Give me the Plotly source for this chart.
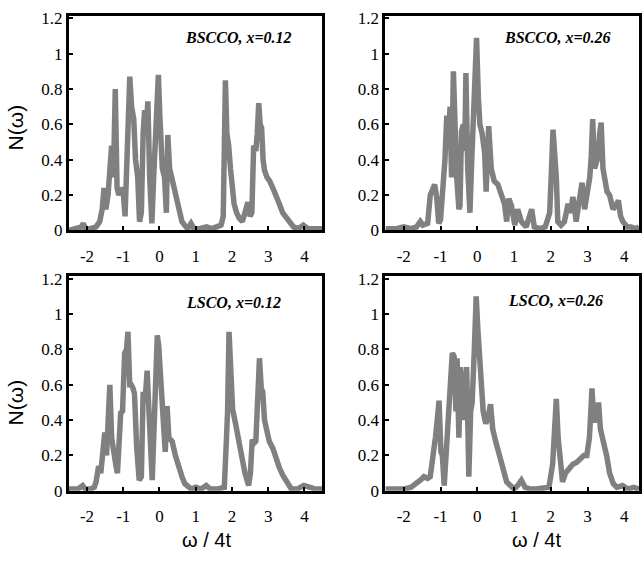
import plotly.graph_objects as go

# ---------------- data ----------------
bscco12_x = [-2.5, -2.3, -2.15, -2.1, -2.05, -1.9, -1.75, -1.65, -1.58, -1.53,
             -1.48, -1.42, -1.36, -1.32, -1.27, -1.22, -1.17, -1.12, -1.06, -1.0,
             -0.95, -0.9, -0.86, -0.82, -0.77, -0.71, -0.66, -0.6, -0.55, -0.5,
             -0.45, -0.41, -0.36, -0.32, -0.27, -0.21, -0.16, -0.11, -0.07, -0.03,
             0.01, 0.04, 0.08, 0.14, 0.19, 0.23, 0.28, 0.36, 0.45, 0.55,
             0.62, 0.69, 0.78, 0.87, 0.95, 1.1, 1.3, 1.45, 1.6, 1.7,
             1.76, 1.79, 1.82, 1.86, 1.91, 1.96, 2.0, 2.06, 2.13, 2.2,
             2.29, 2.38, 2.44, 2.5, 2.55, 2.6, 2.66, 2.7, 2.74, 2.78,
             2.82, 2.86, 2.9, 2.97, 3.04, 3.13, 3.22, 3.31, 3.4, 3.5,
             3.59, 3.7, 3.83, 3.97, 4.1, 4.3, 4.5]
bscco12_y = [0, 0.01, 0.02, 0.04, 0.01, 0.01, 0.02, 0.05, 0.12, 0.24,
             0.12, 0.2, 0.45, 0.48, 0.3, 0.80, 0.24, 0.2, 0.24, 0.22,
             0.08, 0.5, 0.76, 0.87, 0.7, 0.63, 0.4, 0.3, 0.05, 0.1,
             0.55, 0.68, 0.6, 0.73, 0.3, 0.04, 0.3, 0.51, 0.7, 0.88,
             0.65, 0.38, 0.35, 0.3, 0.1, 0.54, 0.35, 0.28, 0.2, 0.13,
             0.05, 0.03, 0.01, 0.04, 0.01, 0.01, 0.02, 0.01, 0.02, 0.03,
             0.08, 0.38, 0.85, 0.55, 0.48, 0.35, 0.24, 0.15, 0.1, 0.07,
             0.05, 0.12, 0.16, 0.08, 0.1, 0.48, 0.45, 0.55, 0.72, 0.6,
             0.58, 0.4, 0.34, 0.3, 0.28, 0.24, 0.2, 0.15, 0.1, 0.07,
             0.04, 0.02, 0.01, 0.03, 0.01, 0.01, 0.01]

bscco26_x = [-2.5, -2.2, -2.0, -1.8, -1.65, -1.55, -1.48, -1.35, -1.28, -1.22,
             -1.16, -1.1, -1.05, -1.0, -0.94, -0.88, -0.83, -0.78, -0.74, -0.7,
             -0.65, -0.6, -0.56, -0.5, -0.47, -0.43, -0.38, -0.34, -0.31, -0.26,
             -0.2, -0.15, -0.11, -0.06, -0.02, 0.03, 0.07, 0.13, 0.2, 0.24,
             0.28, 0.31, 0.38, 0.46, 0.56, 0.65, 0.74, 0.8, 0.86, 0.93,
             1.02, 1.1, 1.2, 1.33, 1.42, 1.48, 1.55, 1.7, 1.85, 1.97,
             2.02, 2.06, 2.11, 2.15, 2.19, 2.28, 2.37, 2.47, 2.54, 2.6,
             2.65, 2.69, 2.76, 2.81, 2.85, 2.92, 2.98, 3.06, 3.1, 3.14,
             3.19, 3.23, 3.29, 3.33, 3.37, 3.42, 3.46, 3.53, 3.6, 3.69,
             3.77, 3.84, 3.9, 3.96, 4.08, 4.18, 4.3, 4.4]
bscco26_y = [0.01, 0.01, 0.02, 0.01, 0.02, 0.05, 0.03, 0.04, 0.2, 0.24,
             0.26, 0.18, 0.04, 0.06, 0.2, 0.4, 0.65, 0.55, 0.7, 0.3,
             0.9, 0.5, 0.3, 0.12, 0.14, 0.56, 0.6, 0.45, 0.89, 0.35,
             0.1, 0.4, 0.6, 0.78, 1.09, 0.75, 0.6, 0.55, 0.44, 0.22,
             0.45, 0.59, 0.35, 0.28, 0.26, 0.2, 0.15, 0.05, 0.18, 0.14,
             0.03, 0.12, 0.05, 0.02, 0.08, 0.12, 0.02, 0.01, 0.02, 0.1,
             0.35, 0.57, 0.42, 0.3, 0.05, 0.03, 0.05, 0.15, 0.1, 0.19,
             0.12, 0.05, 0.15, 0.2, 0.27, 0.12, 0.2, 0.3, 0.42, 0.63,
             0.35, 0.39, 0.42, 0.55, 0.61, 0.35, 0.3, 0.22, 0.2, 0.12,
             0.14, 0.17, 0.08, 0.05, 0.02, 0.02, 0.01, 0.02]

lsco12_x = [-2.5, -2.25, -2.12, -2.05, -1.9, -1.8, -1.75, -1.68, -1.62, -1.56,
            -1.51, -1.46, -1.41, -1.37, -1.32, -1.25, -1.2, -1.16, -1.11, -1.07,
            -1.02, -0.96, -0.91, -0.87, -0.82, -0.78, -0.73, -0.69, -0.63, -0.56,
            -0.5, -0.45, -0.4, -0.34, -0.29, -0.25, -0.2, -0.15, -0.11, -0.06,
            -0.02, 0.03, 0.07, 0.12, 0.16, 0.21, 0.26, 0.35, 0.44, 0.53,
            0.62, 0.7, 0.76, 0.88, 1.0, 1.15, 1.29, 1.4, 1.6, 1.79,
            1.85, 1.88, 1.92, 1.97, 2.02, 2.1, 2.18, 2.27, 2.36, 2.46,
            2.51, 2.56, 2.61, 2.66, 2.71, 2.76, 2.81, 2.85, 2.9, 2.94,
            3.03, 3.13, 3.22, 3.31, 3.4, 3.5, 3.64, 3.8, 3.98, 4.16,
            4.3, 4.5]
lsco12_y = [0.01, 0.01, 0.03, 0.01, 0.01, 0.02, 0.05, 0.14, 0.1, 0.2,
            0.33, 0.2, 0.5, 0.6, 0.3, 0.18, 0.14, 0.1, 0.4, 0.44,
            0.45, 0.78, 0.8, 0.9, 0.6, 0.6, 0.58, 0.55, 0.25, 0.06,
            0.08, 0.56, 0.5, 0.68, 0.45, 0.2, 0.06, 0.35, 0.55, 0.88,
            0.82, 0.6, 0.5, 0.35, 0.22, 0.48, 0.3, 0.28, 0.2, 0.13,
            0.08, 0.04, 0.03, 0.01, 0.02, 0.01, 0.03, 0.01, 0.01, 0.02,
            0.3, 0.45, 0.9, 0.6, 0.46, 0.38, 0.28, 0.18, 0.1, 0.03,
            0.1, 0.29, 0.27, 0.28, 0.5, 0.75, 0.58, 0.56, 0.4, 0.35,
            0.28, 0.24, 0.18, 0.13, 0.09, 0.05, 0.01, 0.01, 0.03, 0.02,
            0.01, 0.01]

lsco26_x = [-2.5, -2.2, -2.0, -1.8, -1.65, -1.55, -1.45, -1.35, -1.28, -1.2,
            -1.14, -1.09, -1.04, -0.99, -0.95, -0.9, -0.86, -0.81, -0.77, -0.72,
            -0.68, -0.63, -0.58, -0.55, -0.5, -0.46, -0.41, -0.36, -0.32, -0.29,
            -0.26, -0.23, -0.18, -0.14, -0.08, -0.03, 0.02, 0.09, 0.16, 0.23,
            0.3, 0.36, 0.42, 0.5, 0.6, 0.7, 0.8, 0.9, 1.0, 1.1,
            1.2, 1.3, 1.45, 1.6, 1.8, 1.95, 2.05, 2.1, 2.15, 2.2,
            2.26, 2.32, 2.4, 2.5, 2.6, 2.7, 2.8, 2.9, 2.98, 3.05,
            3.09, 3.12, 3.17, 3.21, 3.26, 3.3, 3.35, 3.39, 3.46, 3.52,
            3.6, 3.7, 3.8, 3.95, 4.1, 4.25, 4.4]
lsco26_y = [0.01, 0.01, 0.01, 0.02, 0.04, 0.06, 0.08, 0.07, 0.08, 0.25,
            0.3, 0.4, 0.51, 0.22, 0.2, 0.03, 0.15, 0.3, 0.5, 0.62,
            0.78, 0.76, 0.45, 0.75, 0.3, 0.7, 0.46, 0.4, 0.6, 0.7,
            0.4, 0.08, 0.45, 0.5, 0.8, 1.1, 0.9, 0.6, 0.45, 0.38,
            0.42, 0.49, 0.35, 0.28, 0.2, 0.12, 0.05, 0.03, 0.01, 0.03,
            0.06, 0.02, 0.01, 0.01, 0.02, 0.02, 0.15, 0.4, 0.52, 0.3,
            0.15, 0.05, 0.1, 0.13, 0.15, 0.16, 0.18, 0.2, 0.2, 0.3,
            0.45, 0.58, 0.4, 0.4, 0.42, 0.5, 0.35, 0.3, 0.25, 0.2,
            0.1, 0.04, 0.02, 0.03, 0.01, 0.02, 0.01]

panel_labels = ["BSCCO, x=0.12", "BSCCO, x=0.26", "LSCO, x=0.12", "LSCO, x=0.26"]
x_ticks = [-2, -1, 0, 1, 2, 3, 4]
x_tick_text = ["-2", "-1", "0", "1", "2", "3", "4"]
y_ticks = [0, 0.2, 0.4, 0.6, 0.8, 1.0, 1.2]
y_tick_text = ["0", "0.2", "0.4", "0.6", "0.8", "1", "1.2"]
x_title = "ω\u00a0/\u00a04t"
y_title = "N(ω)"

# ---------------- figure ----------------
W, H = 642, 563
series = [(bscco12_x, bscco12_y), (bscco26_x, bscco26_y),
          (lsco12_x, lsco12_y), (lsco26_x, lsco26_y)]

# pixel boxes: (left, right, top, bottom)
boxes = [(69, 323, 10, 231), (386, 640, 10, 231),
         (69, 323, 278, 499), (386, 640, 278, 499)]
xranges = [[-2.5, 4.5], [-2.5, 4.4], [-2.5, 4.5], [-2.5, 4.4]]

fig = go.Figure()
serif = "Liberation Serif, Times New Roman, serif"
sans = "Liberation Sans, Arial, sans-serif"

layout = dict(width=W, height=H, margin=dict(l=0, r=0, t=0, b=0),
              paper_bgcolor="white", plot_bgcolor="white", showlegend=False)

for i, ((xs, ys), (l, r, t, b)) in enumerate(zip(series, boxes)):
    n = "" if i == 0 else str(i + 1)
    fig.add_trace(go.Scatter(x=xs, y=ys, mode="lines",
                             line=dict(color="#808080", width=5.5),
                             xaxis="x" + n, yaxis="y" + n, hoverinfo="skip"))
    layout["xaxis" + n] = dict(
        domain=[l / W, r / W], range=xranges[i], anchor="y" + n,
        tickvals=x_ticks, ticktext=x_tick_text,
        ticks="inside", ticklen=4, tickwidth=2, tickcolor="black",
        ticklabelstandoff=8,
        showline=True, linewidth=3, linecolor="black", mirror=True,
        showgrid=False, zeroline=False,
        tickfont=dict(family=serif, size=17, color="black"))
    layout["yaxis" + n] = dict(
        domain=[1 - b / H, 1 - t / H], range=[0, 1.215], anchor="x" + n,
        tickvals=y_ticks, ticktext=y_tick_text,
        ticks="inside", ticklen=4, tickwidth=2, tickcolor="black",
        showline=True, linewidth=3, linecolor="black", mirror=True,
        showgrid=False, zeroline=False,
        tickfont=dict(family=serif, size=17, color="black"))

annotations = []
label_pos = [(239, 32), (558, 32), (234, 305), (556, 303)]
for (px, py), txt in zip(label_pos, panel_labels):
    annotations.append(dict(x=px / W, y=1 - py / H, xref="paper", yref="paper",
                            text="<b><i>" + txt + "</i></b>", showarrow=False,
                            xanchor="center", yanchor="middle",
                            font=dict(family=serif, size=16, color="black")))
# y titles
for py in (125, 408):
    annotations.append(dict(x=15 / W, y=1 - py / H, xref="paper", yref="paper",
                            text=y_title, showarrow=False, textangle=-90,
                            xanchor="center", yanchor="middle",
                            font=dict(family=sans, size=21, color="black")))
# x titles
for px in (207, 537):
    annotations.append(dict(x=px / W, y=1 - 550 / H, xref="paper", yref="paper",
                            text=x_title, showarrow=False,
                            xanchor="center", yanchor="middle",
                            font=dict(family=sans, size=20, color="black")))
layout["annotations"] = annotations

fig.update_layout(**layout)
fig.write_html("out.html",
               config={"displayModeBar": False},
               post_script="document.body.style.margin='0';"
                           "document.body.style.overflow='hidden';")
